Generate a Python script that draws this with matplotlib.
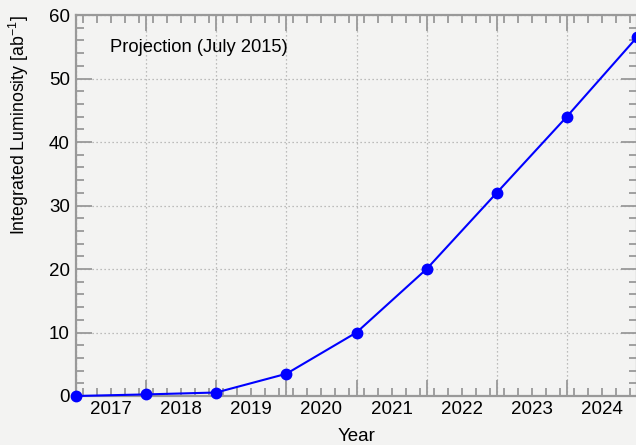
import matplotlib
matplotlib.use("Agg")
import matplotlib.pyplot as plt
from matplotlib.ticker import MultipleLocator

plt.rcParams['font.family'] = ['Liberation Sans', 'DejaVu Sans']

# Year-end boundaries where the cumulative luminosity is evaluated
year_edges = [2016.5, 2017.5, 2018.5, 2019.5, 2020.5, 2021.5, 2022.5, 2023.5, 2024.5]
luminosity = [0.0, 0.25, 0.55, 3.5, 10.0, 20.0, 32.0, 44.0, 56.5]
year_labels = [2017, 2018, 2019, 2020, 2021, 2022, 2023, 2024]

bg = '#f3f3f2'
axis_col = '#999999'

fig = plt.figure(figsize=(6.36, 4.45), dpi=100, facecolor=bg)
ax = fig.add_axes([76 / 636, 49 / 445, 561 / 636, 381 / 445], facecolor=bg)

ax.plot(year_edges, luminosity, color='#0000ff', lw=1.5, marker='o',
        markersize=7.5, clip_on=False, zorder=5)

ax.set_xlim(2016.5, 2024.5)
ax.set_ylim(0, 60)

# bin edges carry the major ticks; labels sit at bin centres
ax.set_xticks(year_edges)
ax.set_xticklabels([])
ax.xaxis.set_minor_locator(MultipleLocator(0.2))
ax.yaxis.set_major_locator(MultipleLocator(10))
ax.yaxis.set_minor_locator(MultipleLocator(2))

ax.tick_params(which='both', direction='in', top=True, right=True,
               color=axis_col, width=1.3)
ax.tick_params(which='major', length=11.5)
ax.tick_params(which='minor', length=5.5)
ax.tick_params(axis='y', which='major', labelsize=13.5, pad=4.5)

sec = ax.secondary_xaxis('bottom')
sec.set_xticks(year_labels)
sec.set_xticklabels([str(y) for y in year_labels])
sec.tick_params(length=0, labelsize=13.5, pad=3.5)
sec.spines['bottom'].set_visible(False)

for s in ax.spines.values():
    s.set_color(axis_col)
    s.set_linewidth(1.6)

ax.grid(True, which='major', linestyle=(0, (1, 2.2)), color='#aaaaaa', lw=0.9)

ax.set_ylabel('Integrated Luminosity [ab$^{\\mathregular{-1}}$]', fontsize=12.8,
              loc='top', labelpad=12.5)
ax.set_xlabel('Year', fontsize=13.5, labelpad=19.5)

ax.text(0.0606, 0.914, 'Projection (July 2015)', transform=ax.transAxes,
        fontsize=13.2, va='center', ha='left')

fig.savefig('out.png', dpi=100, facecolor=bg)
